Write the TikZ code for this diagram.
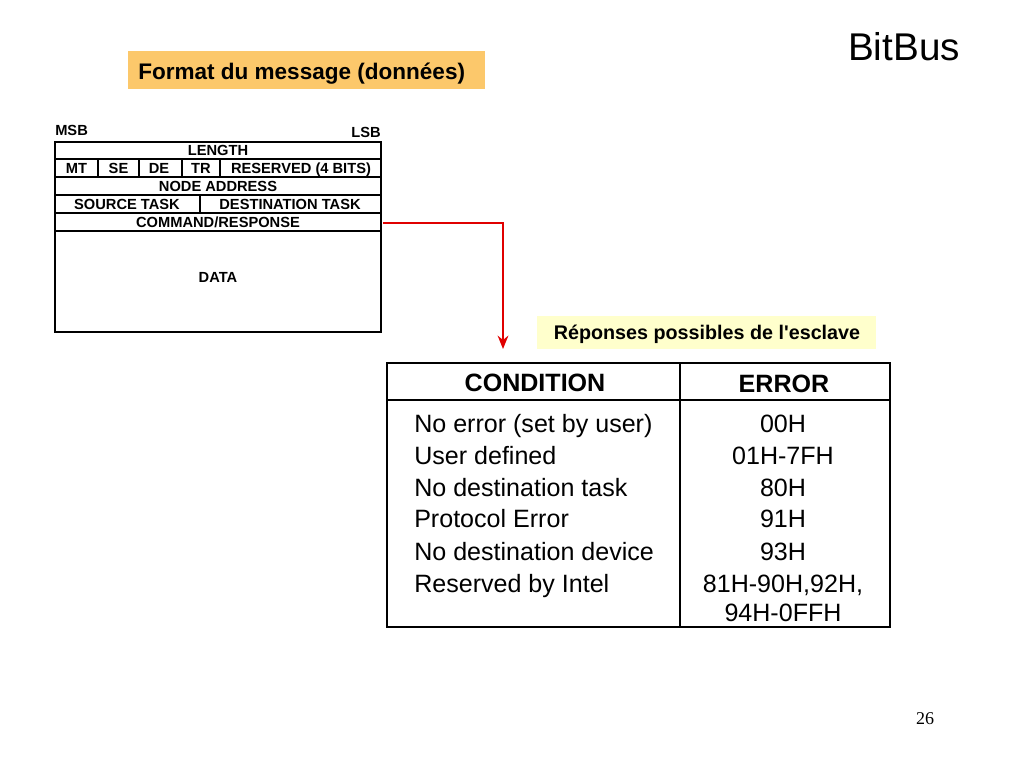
\documentclass[tikz,border=0pt]{standalone}
\usepackage{fontspec}
\setmainfont{Liberation Sans}
\newfontfamily\serifpn{Liberation Serif}
\newfontfamily\plainsans{Liberation Sans}
\usetikzlibrary{arrows.meta}
\definecolor{titleorange}{HTML}{FCC86B}
\definecolor{noteyellow}{HTML}{FFFFCC}
\definecolor{arrowred}{HTML}{E00000}
\tikzset{
  smalltxt/.style={font=\fontsize{11}{12}\selectfont\bfseries, inner sep=0pt, anchor=base},
  bigtxt/.style={font=\fontsize{18.8}{21}\selectfont, inner sep=0pt},
  bighead/.style={font=\fontsize{18.8}{21}\selectfont\bfseries, inner sep=0pt, anchor=base},
  lefttab/.style={line width=1.1pt},
  righttab/.style={line width=1.9pt},
}
\begin{document}
\begin{tikzpicture}[x=0.75pt,y=-0.75pt]
\useasboundingbox (0,0) rectangle (1024,768);
% Title
\node[fill=titleorange, minimum width=357*0.75pt, minimum height=38*0.75pt, inner sep=0pt] (title) at (306.5,70) {};
\node[anchor=base west, font=\fontsize{16.9}{19}\selectfont\bfseries, inner sep=0pt] (titletxt) at (138,79) {Format du message (données)};
\node[font=\fontsize{29}{32}\selectfont, inner sep=0pt, anchor=base] (bitbus) at (904,60) {BitBus};
\node[font=\fontsize{13.5}{15}\selectfont\serifpn, inner sep=0pt, anchor=base] (pageno) at (925,724) {26};

% Left table
\node[smalltxt, anchor=base west] (msb) at (55,135) {MSB};
\node[smalltxt, anchor=base east] (lsb) at (381,137) {LSB};
\draw[lefttab] (55,142) rectangle (381,332);
\draw[lefttab] (55,159) -- (381,159);
\draw[lefttab] (55,177) -- (381,177);
\draw[lefttab] (55,195) -- (381,195);
\draw[lefttab] (55,213) -- (381,213);
\draw[line width=1.5pt] (55,231) -- (381,231);
\draw[lefttab] (98,159) -- (98,177) (139,159) -- (139,177) (182,159) -- (182,177) (220,159) -- (220,177);
\draw[lefttab] (200,195) -- (200,213);
\node[smalltxt] (length) at (218,155.5) {LENGTH};
\node[smalltxt] (mt) at (76.5,173.5) {MT};
\node[smalltxt] (se) at (118.5,173.5) {SE};
\node[smalltxt] (de) at (159,173.5) {DE};
\node[smalltxt] (tr) at (201,173.5) {TR};
\node[smalltxt] (res) at (301,173.5) {RESERVED (4 BITS)};
\node[smalltxt] (node) at (218,191.5) {NODE ADDRESS};
\node[smalltxt] (src) at (127,209.5) {SOURCE TASK};
\node[smalltxt] (dst) at (290,209.5) {DESTINATION TASK};
\node[smalltxt] (cmd) at (218,227.5) {COMMAND/RESPONSE};
\node[smalltxt] (data) at (218,282) {DATA};
\coordinate (cmdright) at (383,223);
\coordinate (bend) at (503,223);
\coordinate (arrowend) at (503,349);

% Yellow note
\node[fill=noteyellow, minimum width=339*0.75pt, minimum height=33*0.75pt, inner sep=0pt] (notebox) at (706.5,332.5) {};
\node[font=\fontsize{14.8}{17}\selectfont\plainsans\bfseries, inner sep=0pt, anchor=base] (notetxt) at (707,339) {Réponses possibles de l'esclave};

% Arrow
\draw[arrowred, line width=1.6pt, -{Stealth[length=10pt,width=8pt]}] (cmdright) -- (bend) -- (arrowend);

% Right table
\draw[righttab] (387,363) rectangle (890,627);
\draw[righttab] (387,400) -- (890,400);
\draw[righttab] (680,363) -- (680,627);
\node[bighead] (cond) at (535,391) {CONDITION};
\node[bighead] (err) at (784,392) {ERROR};
\foreach \t/\v/\y [count=\i] in {No error (set by user)/00H/432, User defined/01H-7FH/464, No destination task/80H/496, Protocol Error/91H/527, No destination device/93H/560, Reserved by Intel/81H-90H{,}92H{,}/592}{
  \node[bigtxt, anchor=base west] (c\i) at (414,\y) {\t};
  \node[bigtxt, anchor=base] (e\i) at (783,\y) {\v};
}
\node[bigtxt, anchor=base] (e7) at (783,621) {94H-0FFH};
\end{tikzpicture}
\end{document}
